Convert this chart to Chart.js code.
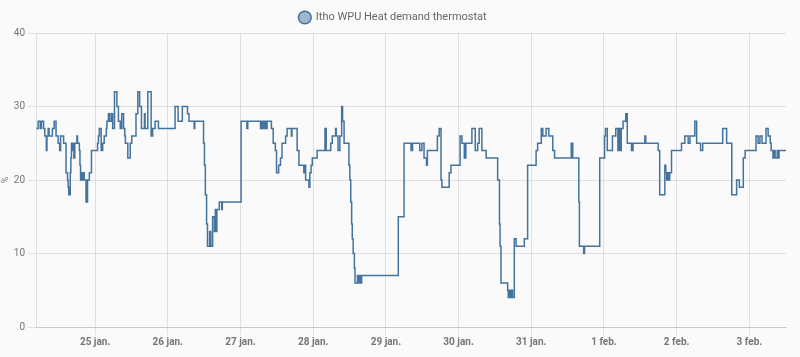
<!DOCTYPE html>
<html><head><meta charset="utf-8">
<script src="https://cdn.jsdelivr.net/npm/chart.js@4/dist/chart.umd.min.js"></script>
<style>html,body{margin:0;padding:0;background:#fafafa;}#wrap{width:800px;height:357px;position:relative;}</style>
</head><body><div id="wrap"><canvas id="c"></canvas></div>
<script>
const seriesLabel = 'Itho WPU Heat demand thermostat';
// hours since 24 jan 00:00
const hours = [4.6,5.2,5.9,6.3,7.0,7.4,7.9,8.1,8.5,8.8,9.9,10.5,11.1,11.8,12.3,12.6,13.6,14.4,14.9,15.1,15.3,15.8,16.0,16.2,16.6,16.8,17.0,17.3,18.0,18.2,18.8,19.0,19.2,19.5,19.8,20.1,20.4,21.0,21.5,22.1,22.8,24.8,25.1,25.4,26.0,26.5,27.0,27.7,27.9,28.4,28.7,29.3,29.8,30.4,31.2,31.7,32.3,32.8,33.4,33.8,34.0,34.8,35.6,36.1,37.5,38.1,38.7,39.3,40.3,40.5,41.4,42.5,43.0,43.8,44.9,50.4,51.4,52.8,54.5,55.0,56.7,56.9,59.8,60.1,60.4,60.8,61.1,61.8,62.2,62.8,63.4,63.7,63.9,64.2,65.0,65.8,66.0,72.2,74.1,74.4,78.6,79.0,79.5,80.0,80.3,80.8,82.2,82.8,83.5,83.9,84.6,85.2,85.7,86.9,87.4,88.8,89.0,90.7,91.3,92.9,93.1,93.5,94.6,94.9,95.3,95.7,97.3,99.9,100.3,101.8,102.3,103.4,103.6,104.2,104.8,105.4,105.7,106.2,107.8,108.1,108.4,108.7,108.9,109.2,109.6,109.8,110.6,110.9,111.4,111.6,112.0,124.1,126.0,128.3,128.8,131.2,131.9,132.6,133.4,133.7,137.0,137.6,138.2,138.5,140.9,141.5,144.5,145.1,145.9,146.4,148.4,149.5,150.3,150.8,151.7,153.1,156.9,157.5,157.7,158.0,160.2,160.4,160.8,161.1,161.4,161.8,162.4,163.0,165.7,166.8,169.6,170.1,171.3,171.8,172.9,173.8,175.1,175.7,181.2,181.7,183.7,183.9,185.3,185.6,190.6,192.2,192.5,193.1,194.8,195.9,196.6,197.0,197.3,197.7,198.3,199.2,199.7,201.1,201.6,205.5,205.8,209.9,210.4,212.1,212.4,212.7,213.0,213.4,213.7,214.3,217.6,218.7,219.8,220.4,222.0,222.6,223.9,224.6,231.2,232.5,234.2,235.8,236.7,238.0,238.6,242.2,242.9,243.5,244.2,245.5,246.2,246.9,247.2,247.8,248.2,248.5,249.2,249.5,249.8,252.1];
const demand = [27,28,27,28,27,26,24,26,27,26,27,28,26,25,24,26,25,21,20,19,18,21,23,25,24,25,23,25,26,25,24,22,20,21,20,21,20,17,20,21,24,25,26,27,24,25,26,27,28,29,28,29,27,32,30,28,27,29,27,26,25,23,25,26,29,32,30,27,29,27,32,26,27,28,27,30,28,30,29,28,27,28,25,22,18,14,11,13,11,15,13,16,13,16,17,16,17,28,27,28,27,28,27,28,27,28,27,25,24,21,22,23,25,26,27,26,27,24,22,21,22,20,19,21,22,23,24,27,24,25,26,27,26,24,26,30,28,25,22,20,17,14,12,10,8,6,7,6,7,6,7,15,25,24,25,24,25,23,22,24,26,27,20,19,21,22,26,25,23,25,27,24,25,27,24,23,20,14,11,6,5,4,5,4,5,4,12,11,12,22,24,25,27,26,27,26,24,23,25,23,17,11,10,11,23,26,27,24,26,27,24,27,24,27,28,29,25,24,25,26,25,24,18,22,21,20,21,20,21,24,25,26,25,26,28,25,24,25,27,25,18,20,19,23,24,26,25,26,25,27,26,25,24,23,24,23,24,23,24,24];
const dayTickHours = [24,48,72,96,120,144,168,192,216,240];
const dayTickLabels = ['25 jan.','26 jan.','27 jan.','28 jan.','29 jan.','30 jan.','31 jan.','1 feb.','2 feb.','3 feb.'];
const yTicks = [0,10,20,30,40];
const xMin = 4.5, xMax = 252.1;

const points = hours.map((h, i) => ({x: h, y: demand[i]}));
const lineColor = '#44739e';
const gridColor = 'rgba(0,0,0,0.1)';
const tickColor = '#757575';

new Chart(document.getElementById('c'), {
  type: 'line',
  data: {datasets: [{
    label: seriesLabel,
    data: points,
    borderColor: lineColor,
    backgroundColor: 'rgba(68,115,158,0.5)',
    borderWidth: 1.5,
    stepped: 'before',
    pointRadius: 0,
    fill: false,
    tension: 0
  }]},
  options: {
    responsive: true,
    maintainAspectRatio: false,
    animation: false,
    devicePixelRatio: 1,
    layout: {padding: {right: 14, left: 0, top: 1, bottom: 8}},
    plugins: {
      legend: {
        position: 'top',
        labels: {usePointStyle: true, pointStyle: 'circle', boxHeight: 9, padding: 11, color: '#666',
          font: {family: 'Roboto', size: 11}}
      },
      tooltip: {enabled: false}
    },
    scales: {
      x: {
        type: 'linear', min: xMin, max: xMax,
        afterBuildTicks: axis => { axis.ticks = dayTickHours.map(v => ({value: v})); },
        ticks: {
          autoSkip: false, maxRotation: 0, color: tickColor, padding: 1,
          font: {family: 'Roboto', size: 10, weight: 'bold'},
          callback: (v) => { const i = dayTickHours.indexOf(v); return i >= 0 ? dayTickLabels[i] : ''; }
        },
        grid: {color: gridColor},
        border: {color: gridColor}
      },
      y: {
        min: 0, max: 40,
        afterBuildTicks: axis => { axis.ticks = yTicks.map(v => ({value: v})); },
        title: {display: true, text: '%', color: tickColor, font: {family: 'Roboto', size: 9}, padding: 0},
        ticks: {color: tickColor, font: {family: 'Roboto', size: 10}},
        grid: {color: gridColor},
        border: {color: gridColor}
      }
    }
  }
});
</script></body></html>
